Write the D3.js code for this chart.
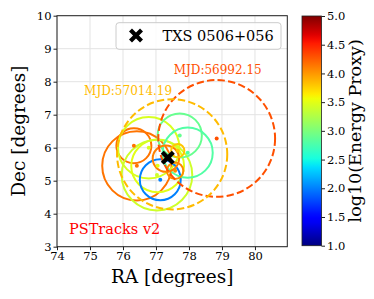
<!DOCTYPE html>
<html><head><meta charset="utf-8">
<script src="https://cdn.jsdelivr.net/npm/d3@7"></script>
<style>body{margin:0;background:#fff}svg{display:block}text{font-family:"DejaVu Serif",serif}</style>
</head><body><svg id="c" width="374" height="299"></svg>
<script>
// ---- data ----
const trackRA     = [76.42, 76.33, 76.78, 77.05, 77.03, 77.13, 77.72, 77.96, 77.30, 77.58, 77.66, 78.84, 77.49];
const trackDec    = [5.45,  6.06,  6.00,  5.45,  5.17,  5.03,  6.37,  5.85,  5.67,  5.30,  5.91,  6.28,  5.80];
const trackRadius = [1.05,  0.53,  0.93,  0.80,  1.07,  0.62,  0.67,  0.76,  0.40,  0.25,  0.20,  1.77,  1.67];
const trackEnergy = [4.15,  4.15,  3.45,  3.50,  3.40,  2.00,  2.90,  2.80,  4.10,  4.05,  3.80,  4.30,  3.85];
const trackMJD    = ["",    "",    "",    "",    "",    "",    "",    "",    "",    "",    "",    "56992.15", "57014.19"];
const sourceName = "TXS 0506+056";
const sourceRA = 77.358, sourceDec = 5.693;
const xTicks = [74, 75, 76, 77, 78, 79, 80];
const yTicks = [3, 4, 5, 6, 7, 8, 9, 10];
const cbTicks = [1.0, 1.5, 2.0, 2.5, 3.0, 3.5, 4.0, 4.5, 5.0];
const sampleLabel = "PSTracks v2";

// ---- jet colormap (matplotlib segment data) ----
function seg(pts, x){for(let i=1;i<pts.length;i++){if(x<=pts[i][0]){const a=pts[i-1],b=pts[i];return a[1]+(b[1]-a[1])*(x-a[0])/(b[0]-a[0]);}}return pts[pts.length-1][1];}
const R=[[0,0],[0.35,0],[0.66,1],[0.89,1],[1,0.5]];
const G=[[0,0],[0.125,0],[0.375,1],[0.64,1],[0.91,0],[1,0]];
const B=[[0,0.5],[0.11,1],[0.34,1],[0.65,0],[1,0]];
function jet(t){t=Math.max(0,Math.min(1,t));return d3.rgb(255*seg(R,t),255*seg(G,t),255*seg(B,t)).formatHex();}
const cnorm = d3.scaleLinear().domain([1,5]).range([0,1]).clamp(true);
const color = e => jet(cnorm(e));

const svg = d3.select("#c");
const L=57, Rr=287.3, T=15.7, Bt=246.7;
const x = d3.scaleLinear().domain([74, 80.98]).range([L, Rr]);
const y = d3.scaleLinear().domain([3, 10]).range([Bt, T]);
const pxPerDeg = x(1)-x(0);

const defs = svg.append("defs");
defs.append("clipPath").attr("id","clip").append("rect").attr("x",L).attr("y",T).attr("width",Rr-L).attr("height",Bt-T);

// grid
const g = svg.append("g");
g.selectAll(".gx").data(xTicks).join("line").attr("x1",d=>x(d)).attr("x2",d=>x(d)).attr("y1",T).attr("y2",Bt).attr("stroke","#e3e3e3").attr("stroke-width",1);
g.selectAll(".gy").data(yTicks).join("line").attr("y1",d=>y(d)).attr("y2",d=>y(d)).attr("x1",L).attr("x2",Rr).attr("stroke","#e3e3e3").attr("stroke-width",1);

// circles
const idx = d3.range(trackRA.length);
const plot = svg.append("g").attr("clip-path","url(#clip)");
plot.selectAll("circle.trk").data(idx).join("circle")
  .attr("cx",i=>x(trackRA[i])).attr("cy",i=>y(trackDec[i])).attr("r",i=>trackRadius[i]*pxPerDeg)
  .attr("fill","none").attr("stroke",i=>color(trackEnergy[i])).attr("stroke-width",2)
  .attr("stroke-dasharray",i=>trackMJD[i]?"7.4,3.2":null);
plot.selectAll("circle.dot").data(idx).join("circle")
  .attr("cx",i=>x(trackRA[i])).attr("cy",i=>y(trackDec[i])).attr("r",2)
  .attr("fill",i=>color(trackEnergy[i]));

// MJD labels
idx.filter(i=>trackMJD[i]).forEach((i,k)=>{
  const cx=x(trackRA[i]), top=y(trackDec[i]+trackRadius[i]);
  svg.append("text").attr("x", k===0?cx+1:cx).attr("y", k===0?top-6:top-4.5)
    .attr("text-anchor", k===0?"middle":"end").attr("font-size",12)
    .attr("fill",color(trackEnergy[i])).text("MJD:"+trackMJD[i]);
});

// X marker
function xMarker(cx,cy,s,w){
  const a=s/2, h=w/2/Math.SQRT2*2;
  const p=d3.path();
  const pts=[[0,-h],[a-h,-a],[a,-a+h],[h,0],[a,a-h],[a-h,a],[0,h],[-a+h,a],[-a,a-h],[-h,0],[-a,-a+h],[-a+h,-a]];
  pts.forEach((q,j)=>j?p.lineTo(cx+q[0],cy+q[1]):p.moveTo(cx+q[0],cy+q[1]));p.closePath();
  return p.toString();
}
svg.append("path").attr("d",xMarker(x(sourceRA),y(sourceDec),14,4.2)).attr("fill","#000");

// sample label
svg.append("text").attr("x",69).attr("y",234).attr("font-size",14.5).attr("fill","#ff0000").text(sampleLabel);

// frame
svg.append("rect").attr("x",L).attr("y",T).attr("width",Rr-L).attr("height",Bt-T).attr("fill","none").attr("stroke","#222").attr("stroke-width",1);

// axes
const xa = svg.append("g").attr("transform",`translate(0,${Bt})`).call(d3.axisBottom(x).tickValues(xTicks).tickFormat(d3.format("d")).tickSize(3.5).tickPadding(2));
const ya = svg.append("g").attr("transform",`translate(${L},0)`).call(d3.axisLeft(y).tickValues(yTicks).tickFormat(d3.format("d")).tickSize(3.5).tickPadding(2));
[xa,ya].forEach(a=>{a.select(".domain").remove();a.selectAll("text").attr("font-family","DejaVu Serif").attr("font-size",11.5).attr("fill","#000");a.selectAll("line").attr("stroke","#222");});
svg.append("text").attr("x",(L+Rr)/2).attr("y",283).attr("text-anchor","middle").attr("font-size",18.5).text("RA [degrees]");
svg.append("text").attr("transform",`translate(25,${(T+Bt)/2}) rotate(-90)`).attr("text-anchor","middle").attr("font-size",18.5).text("Dec [degrees]");

// legend
svg.append("rect").attr("x",116).attr("y",22.7).attr("width",165).attr("height",26.6).attr("rx",3).attr("fill","#fff").attr("fill-opacity",0.85).attr("stroke","#cccccc").attr("stroke-width",1);
svg.append("path").attr("d",xMarker(136,35.5,14,4.2)).attr("fill","#000");
svg.append("text").attr("x",162.5).attr("y",40.5).attr("font-size",14.5).text(sourceName);

// colorbar
const cbX=302, cbW=19.5, cbT=16, cbB=245.7;
const grad = defs.append("linearGradient").attr("id","jet").attr("x1",0).attr("y1",1).attr("x2",0).attr("y2",0);
d3.range(0,1.0001,0.02).forEach(t=>grad.append("stop").attr("offset",t).attr("stop-color",jet(t)));
svg.append("rect").attr("x",cbX).attr("y",cbT).attr("width",cbW).attr("height",cbB-cbT).attr("fill","url(#jet)").attr("stroke","#222").attr("stroke-width",0.8);
const cy = d3.scaleLinear().domain([1,5]).range([cbB,cbT]);
const ca = svg.append("g").attr("transform",`translate(${cbX+cbW},0)`).call(d3.axisRight(cy).tickValues(cbTicks).tickFormat(d3.format(".1f")).tickSize(3.5).tickPadding(2));
ca.select(".domain").remove();ca.selectAll("text").attr("font-family","DejaVu Serif").attr("font-size",11.5).attr("fill","#000");ca.selectAll("line").attr("stroke","#222");
svg.append("text").attr("transform",`translate(361,${(cbT+cbB)/2}) rotate(-90)`).attr("text-anchor","middle").attr("font-size",17.5).text("log10(Energy Proxy)");
</script></body></html>
